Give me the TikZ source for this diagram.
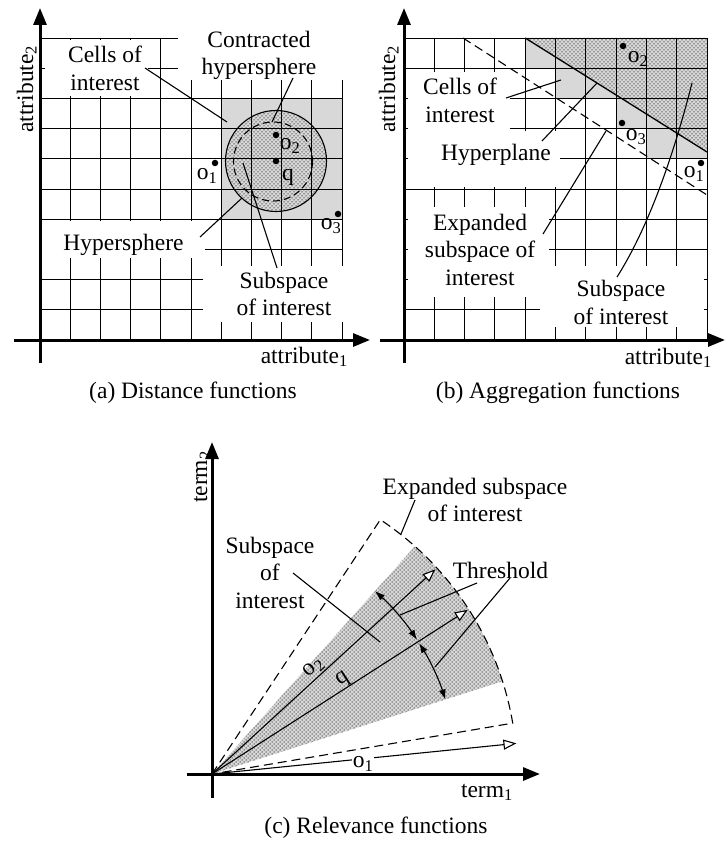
\documentclass[tikz,border=0pt]{standalone}
\usepackage{fontspec}
\setmainfont{Liberation Serif}
\usetikzlibrary{arrows.meta,patterns.meta,calc}
\pgfdeclarepattern{
  name=sdots, type=uncolored,
  bottom left={\pgfpoint{-1pt}{-1pt}},
  top right={\pgfpoint{3pt}{3pt}},
  tile size={\pgfpoint{4pt}{4pt}},
  code={\pgfpathcircle{\pgfpoint{0pt}{0pt}}{0.75pt}\pgfpathcircle{\pgfpoint{2pt}{2pt}}{0.75pt}\pgfusepath{fill}}
}
\definecolor{cellgray}{RGB}{216,216,216}
\definecolor{dotgray}{RGB}{80,80,80}
\begin{document}
\begin{tikzpicture}[x=1pt,y=-1pt,
  txt/.style={font=\fontsize{23.5}{27.5}\selectfont, inner sep=0pt, align=center},
  lab/.style={font=\fontsize{23.5}{27.5}\selectfont, inner sep=0pt},
  gridl/.style={line width=0.9pt},
  axisl/.style={line width=3pt, -{Triangle[length=17pt,width=13pt]}},
  lead/.style={line width=1.1pt},
  dashl/.style={line width=1.1pt, dash pattern=on 9pt off 5pt},
  dot/.style={circle, fill=black, inner sep=0pt, minimum size=6.5pt},
  gfill/.style={fill=cellgray},
  pfill/.style={pattern={sdots}, pattern color=dotgray},
  vec/.style={line width=1.1pt, -{Triangle[length=13pt,width=10pt,fill=white]}},
  thr/.style={line width=1.1pt, {Latex[length=10pt,width=7pt]}-{Latex[length=10pt,width=7pt]}},
  cover/.style={fill=white}
]
\useasboundingbox (0,0) rectangle (726,842);

% ================= (a) =================
\fill[gfill] (221.2,98.4) rectangle (342,219.2);
\fill[gfill] (276,161) circle[radius=50.5];
\fill[pfill] (276,161) circle[radius=50.5];
\foreach \i in {0,...,10} {\draw[gridl] ({40+30.2*\i},38) -- ({40+30.2*\i},340);}
\foreach \j in {0,...,10} {\draw[gridl] (40,{38+30.2*\j}) -- (342,{38+30.2*\j});}
\fill[cover] (45,40) rectangle (148,96);
\fill[cover] (178,16) rectangle (352,80);
\fill[cover] (42,221) rectangle (205,258);
\fill[cover] (203,266) rectangle (346,322);
\draw[line width=1.1pt] (276,161) circle[radius=50.5];
\draw[line width=1.1pt, dash pattern=on 7pt off 4pt] (273,161.5) circle[radius=39.5];

\node[dot] (a-o1) at (215,163) {};
\node[dot] (a-o2) at (276,135) {};
\node[dot] (a-q) at (276,161) {};
\node[dot] (a-o3) at (338,214) {};
\node[lab] (a-o1l) at (207,176) {o\textsubscript{1}};
\node[lab] (a-o2l) at (290,146) {o\textsubscript{2}};
\node[lab] (a-ql) at (288,177) {q};
\node[lab] (a-o3l) at (331,226) {o\textsubscript{3}};

\node[txt] (a-cells) at (105,68.5) {Cells of\\interest};
\node[txt] (a-contr) at (259,55.5) {Contracted\\hypersphere};
\node[txt] (a-hyp) at (123.5,244.5) {Hypersphere};
\node[txt] (a-sub) at (284,293.75) {Subspace\\of interest};

\draw[lead] (145,68) -- (227,122);
\draw[lead] (293,78) -- (272,122);
\draw[lead] (200,237) -- (242,198);
\draw[lead] (277,268) -- (243,163);

\draw[axisl] (40,363) -- (40,8);
\draw[axisl] (14,340) -- (370,340);
\node[lab, anchor=base east] (a-x) at (348,363) {attribute\textsubscript{1}};
\node[lab, rotate=90, anchor=base] (a-y) at (33,89) {attribute\textsubscript{2}};
\node[lab] (a-cap) at (193,393) {(a) Distance functions};

% ================= (b) =================
\fill[gfill] (525.2,38) -- (525.2,68.2) -- (555.5,68.2) -- (555.5,98.4) -- (616.1,98.4)
  -- (616.1,128.6) -- (646.4,128.6) -- (646.4,158.8) -- (707,158.8) -- (707,152) -- cycle;
\fill[gfill] (525.2,38) -- (707,38) -- (707,152) -- cycle;
\fill[pfill] (525.2,38) -- (707,38) -- (707,152) -- cycle;
\foreach \i in {0,...,10} {\draw[gridl] ({404+30.3*\i},38) -- ({404+30.3*\i},340);}
\foreach \j in {0,...,10} {\draw[gridl] (404,{38+30.2*\j}) -- (707,{38+30.2*\j});}
\fill[cover] (408,72) rectangle (510,131);
\fill[cover] (408,131) rectangle (560,187);
\fill[cover] (408,207) rectangle (549,297);
\fill[cover] (540,266) rectangle (704,327);
\draw[line width=1.3pt] (525.2,38) -- (707,152);
\draw[dashl] (463,38) -- (707,195);

\node[dot] (b-o2) at (623,46) {};
\node[dot] (b-o3) at (622,123) {};
\node[dot] (b-o1) at (701,163) {};
\node[lab] (b-o2l) at (638,59) {o\textsubscript{2}};
\node[lab] (b-o3l) at (636,137) {o\textsubscript{3}};
\node[lab] (b-o1l) at (694,174) {o\textsubscript{1}};

\node[txt] (b-cells) at (460,100.5) {Cells of\\interest};
\node[txt] (b-hyp) at (496,155) {Hyperplane};
\node[txt] (b-exp) at (480,249.5) {Expanded\\subspace of\\interest};
\node[txt] (b-sub) at (621,302.5) {Subspace\\of interest};

\draw[lead] (506,98) -- (561,80);
\draw[lead] (542,141) -- (597,83);
\draw[lead] (543,234) -- (606,131);
\draw[lead] (617,277) .. controls (650,225) and (675,150) .. (692,83);

\draw[axisl] (404,363) -- (404,8);
\draw[axisl] (380,340) -- (725,340);
\node[lab, anchor=base east] (b-x) at (712,364) {attribute\textsubscript{1}};
\node[lab, rotate=90, anchor=base] (b-y) at (395,89) {attribute\textsubscript{2}};
\node[lab] (b-cap) at (558,393) {(b) Aggregation functions};

% ================= (c) =================
\coordinate (O) at (212,774);
\fill[gfill] (O) -- ++(-17.7:305) arc[start angle=-17.7, end angle=-48.3, radius=305] -- cycle;
\fill[pfill] (O) -- ++(-17.7:305) arc[start angle=-17.7, end angle=-48.3, radius=305] -- cycle;
\draw[dashl] (O) -- ++(-56.5:305) arc[start angle=-56.5, end angle=-9.6, radius=305] -- cycle;

\draw[vec] (O) -- ++(-5.75:306) coordinate (c-o1tip);
\draw[vec] (O) -- ++(-42.5:303) coordinate (c-o2tip)
  node[pos=0.485, sloped, above, lab, inner sep=1.5pt] (c-o2l) {o\textsubscript{2}};
\draw[vec] (O) -- ++(-32.7:304) coordinate (c-qtip)
  node[pos=0.53, sloped, above, lab, inner sep=0pt] (c-ql) {q};
\node[lab, fill=white, inner sep=1pt] (c-o1l) at (363,764) {o\textsubscript{1}};

\draw[thr] ($(O)+(-48.3:245)$) arc[start angle=-48.3, end angle=-33.2, radius=245];
\draw[thr] ($(O)+(-32.3:245)$) arc[start angle=-32.3, end angle=-17.7, radius=245];

\draw[axisl] (212,798) -- (212,442);
\draw[axisl] (187,774) -- (540,774);

\node[txt] (c-exp) at (475,500) {Expanded subspace\\of interest};
\node[txt] (c-thr) at (500.5,570) {Threshold};
\node[txt] (c-sub) at (270,572.5) {Subspace\\of\\interest};

\draw[lead] (415,500) -- (401,534);
\draw[lead] (477,583) -- (400,615);
\draw[lead] (510,578) -- (435,667);
\draw[lead] (293,573) -- (380,642);

\node[lab, anchor=base east] (c-x) at (513,797) {term\textsubscript{1}};
\node[lab, rotate=90, anchor=base] (c-y) at (207,477) {term\textsubscript{2}};
\node[lab] (c-cap) at (376,828) {(c) Relevance functions};
\end{tikzpicture}
\end{document}
